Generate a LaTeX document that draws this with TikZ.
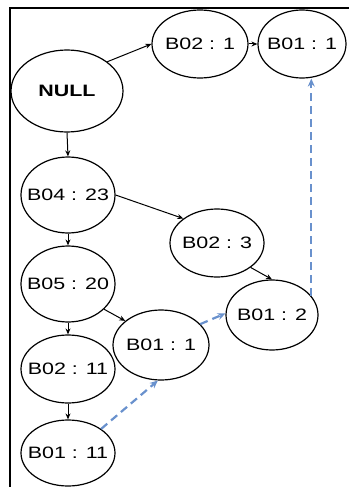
\documentclass[tikz,border=0pt]{standalone}
\usepackage{fontspec}
\usepackage{graphicx}
\setmainfont{Liberation Sans}
\usetikzlibrary{shapes.geometric,arrows.meta}
\definecolor{linkblue}{RGB}{105,145,205}
% label widened horizontally, with zero width so the ellipse size is set by the style
\newcommand{\lbl}[1]{\makebox[0pt][c]{\scalebox{1.3}[1]{#1}}}
\begin{document}
\begin{tikzpicture}[x=1pt,y=-1pt,
  item/.style={ellipse,draw,line width=1.2pt,inner sep=0pt,
    minimum width=94pt,minimum height=70pt,
    font=\fontsize{16.5}{19}\selectfont},
  edge/.style={line width=1pt,-{Stealth[length=6pt,width=5pt]}},
  link/.style={line width=2.2pt,linkblue,dash pattern=on 8pt off 5pt,
    -{Stealth[length=8pt,width=7pt]}}]
  \useasboundingbox (0,0) rectangle (349,487);
  % frame (left and top edges)
  \draw[line width=1.5pt] (10,487) -- (10,8) -- (349,8);

  \node[item,minimum width=112pt,minimum height=82pt] (null) at (67,91)
    {\lbl{\bfseries NULL}};
  \node[item,minimum width=96pt,minimum height=68pt] (a) at (200,44) {\lbl{B02 : 1}};
  \node[item,minimum width=88pt,minimum height=68pt] (b) at (302,44) {\lbl{B01 : 1}};
  \node[item,minimum height=76pt] (c) at (68,195) {\lbl{B04 : 23}};
  \node[item,minimum height=76pt] (d) at (68,284) {\lbl{B05 : 20}};
  \node[item,minimum height=68pt] (e) at (217,243) {\lbl{B02 : 3}};
  \node[item,minimum width=92pt] (f) at (272,315) {\lbl{B01 : 2}};
  \node[item,minimum width=96pt] (g) at (161,345) {\lbl{B01 : 1}};
  \node[item,minimum height=68pt] (h) at (68,369) {\lbl{B02 : 11}};
  \node[item,minimum height=66pt] (i) at (68,453) {\lbl{B01 : 11}};

  \draw[edge] (null.36) -- (a.west);
  \draw[edge] (a.east) -- (b.west);
  \draw[edge] (null.south) -- (c.north);
  \draw[edge] (c.east) -- (e.144);
  \draw[edge] (c.south) -- (d.north);
  \draw[edge] (e.-36) -- (f.north);
  \draw[edge] (d.-35) -- (g.146);
  \draw[edge] (d.south) -- (h.north);
  \draw[edge] (h.south) -- (i.north);

  \draw[link] (i.36) -- (g.265);
  \draw[link] (g.28) -- (f.178);
  \draw[link] (f.26) -- (f.26 |- b.south);
\end{tikzpicture}
\end{document}
